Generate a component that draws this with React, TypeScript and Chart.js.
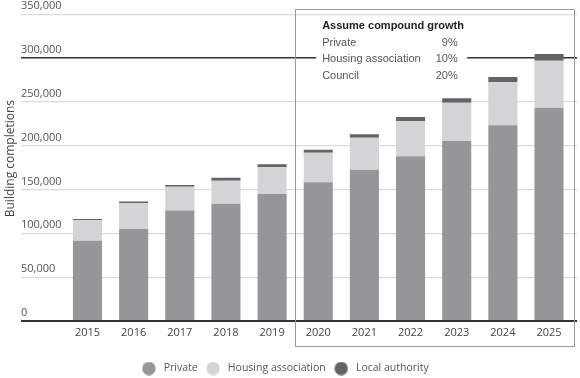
import React, { useEffect, useRef } from 'react';
import { Chart, registerables } from 'chart.js';

Chart.register(...registerables);

const years = ['2015', '2016', '2017', '2018', '2019', '2020', '2021', '2022', '2023', '2024', '2025'];
const privateValues = [91500, 105000, 126000, 133800, 145000, 158200, 172600, 187900, 205400, 223300, 243400];
const housingAssociationValues = [23800, 29300, 27200, 26300, 30500, 33800, 36500, 40000, 43700, 49100, 53700];
const localAuthorityValues = [1000, 2000, 2000, 3200, 3300, 3300, 3900, 5000, 5000, 5900, 7600];
const seriesNames = ['Private', 'Housing association', 'Local authority'];
const yTitle = 'Building completions';
const yMax = 350000;
const yStep = 50000;
const highlightValue = 300000;
const noteTitle = 'Assume compound growth';
const growthLabels = ['Private', 'Housing association', 'Council'];
const growthRates = ['9%', '10%', '20%'];
const projectionStartIndex = 5;

const COLORS = ['#969699', '#d4d4d6', '#636466'];
const TICK_FONT = { family: '"Open Sans", sans-serif', size: 11 };

const gridColor = (ctx: any) => {
  const v = ctx.tick ? ctx.tick.value : null;
  return v === 0 || v === highlightValue ? '#333333' : '#dadada';
};
const gridWidth = (ctx: any) => {
  const v = ctx.tick ? ctx.tick.value : null;
  if (v === 0) return 2;
  if (v === highlightValue) return 1.6;
  return 1.2;
};

function makeDot(color: string) {
  const c = document.createElement('canvas');
  c.width = 14;
  c.height = 14;
  const g = c.getContext('2d')!;
  g.fillStyle = color;
  g.beginPath();
  g.arc(7, 7, 6.7, 0, Math.PI * 2);
  g.fill();
  return c;
}

const legendShiftPlugin = {
  id: 'legendShift',
  afterLayout(chart: any) {
    if (chart.legend) {
      chart.legend.left -= 4.5;
      chart.legend.right -= 4.5;
    }
  },
};

const notePlugin = {
  id: 'notePlugin',
  afterDraw(chart: any) {
    const { ctx, chartArea, scales } = chart;
    const x = scales.x;
    const y = scales.y;
    ctx.save();
    ctx.save();
    ctx.translate(10.2, (chartArea.top + chartArea.bottom) / 2 - 9);
    ctx.rotate(-Math.PI / 2);
    ctx.textAlign = 'center';
    ctx.textBaseline = 'middle';
    ctx.fillStyle = '#444444';
    ctx.font = '12px "Open Sans", sans-serif';
    ctx.fillText(yTitle, 0, 0);
    ctx.restore();

    const boxLeft = (x.getPixelForValue(projectionStartIndex - 1) + x.getPixelForValue(projectionStartIndex)) / 2;
    const boxRight = chartArea.right + 2;
    const boxTop = y.getPixelForValue(yMax) - 5;
    const boxBottom = chartArea.bottom + 25;
    const textLeft = boxLeft + 27;
    ctx.fillStyle = '#ffffff';
    ctx.fillRect(textLeft - 6, boxTop + 9, 151, 67);
    ctx.strokeStyle = '#9a9a9a';
    ctx.lineWidth = 1;
    ctx.strokeRect(Math.round(boxLeft) + 0.5, Math.round(boxTop) + 0.5, Math.round(boxRight - boxLeft), Math.round(boxBottom - boxTop));
    ctx.textBaseline = 'middle';
    ctx.textAlign = 'left';
    ctx.fillStyle = '#222222';
    ctx.font = 'bold 11px "Liberation Sans", Arial, sans-serif';
    ctx.fillText(noteTitle, textLeft, boxTop + 17);
    ctx.font = '11px "Liberation Sans", Arial, sans-serif';
    ctx.fillStyle = '#555555';
    growthLabels.forEach((label, i) => {
      const ty = boxTop + 33.5 + i * 16.5;
      ctx.textAlign = 'left';
      ctx.fillText(label, textLeft, ty);
      ctx.textAlign = 'right';
      ctx.fillText(growthRates[i], textLeft + 135.5, ty);
    });
    ctx.restore();
  },
};

export default function App() {
  const canvasRef = useRef<HTMLCanvasElement | null>(null);

  useEffect(() => {
    if (!canvasRef.current) return;
    const values = [privateValues, housingAssociationValues, localAuthorityValues];
    const dots = COLORS.map(makeDot);
    const chart = new Chart(canvasRef.current, {
      type: 'bar',
      data: {
        labels: years,
        datasets: seriesNames.map((name, i) => ({
          label: name,
          data: values[i],
          backgroundColor: COLORS[i],
          borderWidth: 0,
          barPercentage: 1,
          categoryPercentage: 0.63,
        })),
      },
      options: {
        responsive: false,
        animation: false,
        devicePixelRatio: 1,
        layout: { padding: { top: 14.3, right: 2.9, bottom: -5.75, left: 0 } },
        plugins: {
          tooltip: { enabled: false },
          legend: {
            position: 'bottom',
            labels: {
              usePointStyle: true,
              pointStyleWidth: 19,
              boxHeight: 9,
              padding: 6,
              color: '#555555',
              font: { family: '"Open Sans", sans-serif', size: 10.5 },
              generateLabels: (ch: any) => {
                const items = Chart.defaults.plugins.legend.labels.generateLabels(ch);
                items.forEach((it: any, i: number) => {
                  it.pointStyle = dots[i];
                  it.lineWidth = 0;
                });
                return items;
              },
            },
          },
        },
        scales: {
          x: {
            stacked: true,
            grid: { display: false, drawTicks: false },
            border: { display: false },
            ticks: { color: '#444444', font: TICK_FONT, padding: 5 },
            afterFit: (s: any) => {
              s.height = 36.35;
            },
          },
          y: {
            stacked: true,
            min: 0,
            max: yMax,
            ticks: {
              stepSize: yStep,
              mirror: true,
              padding: -43.4,
              labelOffset: -8,
              crossAlign: 'near',
              color: '#555555',
              font: TICK_FONT,
              callback: (v: any) => Number(v).toLocaleString('en-US'),
            },
            grid: { color: gridColor, lineWidth: gridWidth, drawTicks: true, tickLength: 43.4 },
            border: { display: false },
            afterFit: (s: any) => {
              s.width = 64.4;
            },
          },
          y2: {
            position: 'right',
            min: 0,
            max: yMax,
            ticks: { display: false, stepSize: yStep },
            grid: { color: gridColor, lineWidth: gridWidth, drawOnChartArea: false, drawTicks: true, tickLength: 5 },
            border: { display: false },
            afterFit: (s: any) => {
              s.width = 5;
            },
          },
        },
      } as any,
      plugins: [legendShiftPlugin, notePlugin],
    });
    return () => chart.destroy();
  }, []);

  return (
    <div style={{ position: 'absolute', left: 0, top: 0, width: 580, height: 378, background: '#fff' }}>
      <canvas ref={canvasRef} width={580} height={378} />
    </div>
  );
}
